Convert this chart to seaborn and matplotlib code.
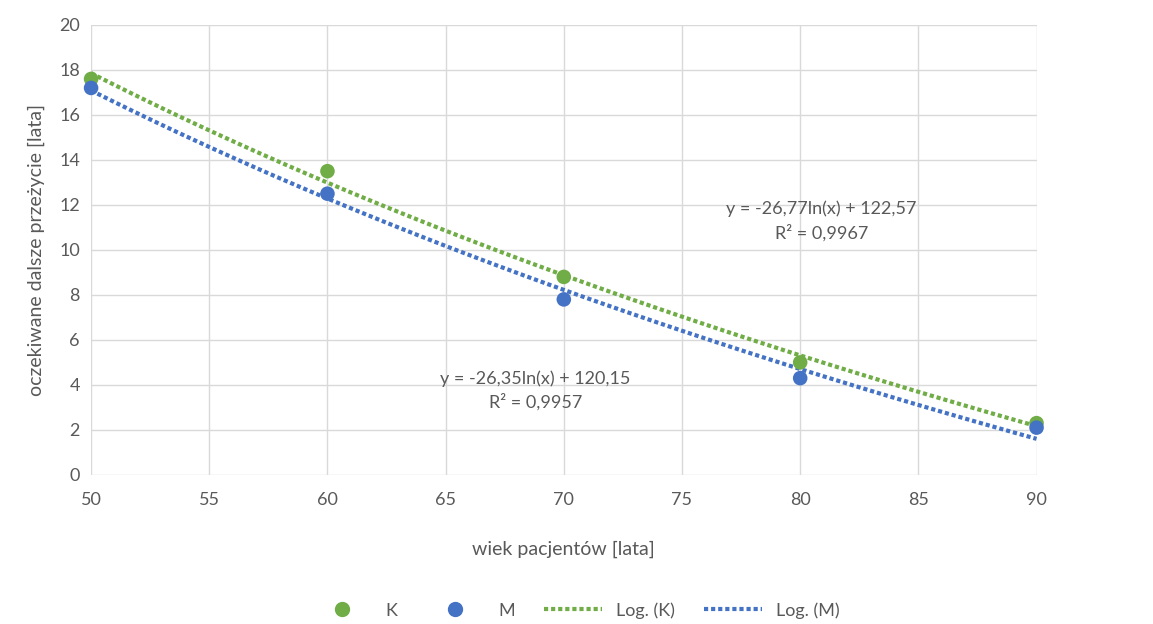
import pandas as pd
import seaborn as sns
import matplotlib.pyplot as plt
from matplotlib.lines import Line2D

# Data
age = [50, 60, 70, 80, 90]
k_years = [17.6, 13.5, 8.8, 5.0, 2.3]
m_years = [17.2, 12.5, 7.8, 4.3, 2.1]

k_label = "y = -26,77ln(x) + 122,57\nR² = 0,9967"
m_label = "y = -26,35ln(x) + 120,15\nR² = 0,9957"

green = "#70AD47"
blue = "#4472C4"
text_col = "#595959"

sns.set_theme(style="white")
plt.rcParams['font.family'] = ['Lato', 'DejaVu Sans']

df = pd.DataFrame({"age": age * 2,
                   "years": k_years + m_years,
                   "sex": ["K"] * 5 + ["M"] * 5})

fig = plt.figure(figsize=(11.53, 6.24), dpi=100)
ax = fig.add_axes([0.079, 0.239, 0.820, 0.721])

# Log trendlines (fit on ln(x))
for sex, col in [("K", green), ("M", blue)]:
    sub = df[df["sex"] == sex]
    sns.regplot(data=sub, x="age", y="years", logx=True, ci=None, scatter=False,
                truncate=True, ax=ax,
                line_kws=dict(color=col, lw=3, linestyle=(0, (1, 0.7))))

sns.scatterplot(data=df, x="age", y="years", hue="sex",
                palette={"K": green, "M": blue}, s=110, edgecolor="none",
                ax=ax, legend=False, zorder=5, clip_on=False)

ax.set_xlim(50, 90)
ax.set_ylim(0, 20)
ax.set_xticks(range(50, 91, 5))
ax.set_yticks(range(0, 21, 2))
ax.grid(True, color="#D9D9D9", lw=1)
ax.set_axisbelow(True)
for s in ax.spines.values():
    s.set_visible(False)
ax.tick_params(axis="both", length=0, labelsize=13, colors=text_col)
ax.tick_params(axis="x", pad=12)
ax.tick_params(axis="y", pad=8)

ax.set_xlabel("wiek pacjentów [lata]", fontsize=14, color=text_col, labelpad=24)
ax.set_ylabel("oczekiwane dalsze przeżycie [lata]", fontsize=14, color=text_col, labelpad=10)

ax.text(80.9, 11.3, k_label, ha="center", va="center", fontsize=13,
        color=text_col, linespacing=1.5)
ax.text(68.8, 3.75, m_label, ha="center", va="center", fontsize=13,
        color=text_col, linespacing=1.5)

handles = [
    Line2D([], [], marker="o", color=green, lw=0, markersize=10),
    Line2D([], [], marker="o", color=blue, lw=0, markersize=10),
    Line2D([], [], color=green, lw=3, linestyle=(0, (1, 0.7))),
    Line2D([], [], color=blue, lw=3, linestyle=(0, (1, 0.7))),
]
fig.legend(handles, ["K", "M", "Log. (K)", "Log. (M)"], loc="center",
           bbox_to_anchor=(0.5, 0.022), ncol=4, frameon=False, fontsize=13,
           labelcolor=text_col, handlelength=3.2, columnspacing=1.6)

fig.savefig("out.png", dpi=100, facecolor="white")
